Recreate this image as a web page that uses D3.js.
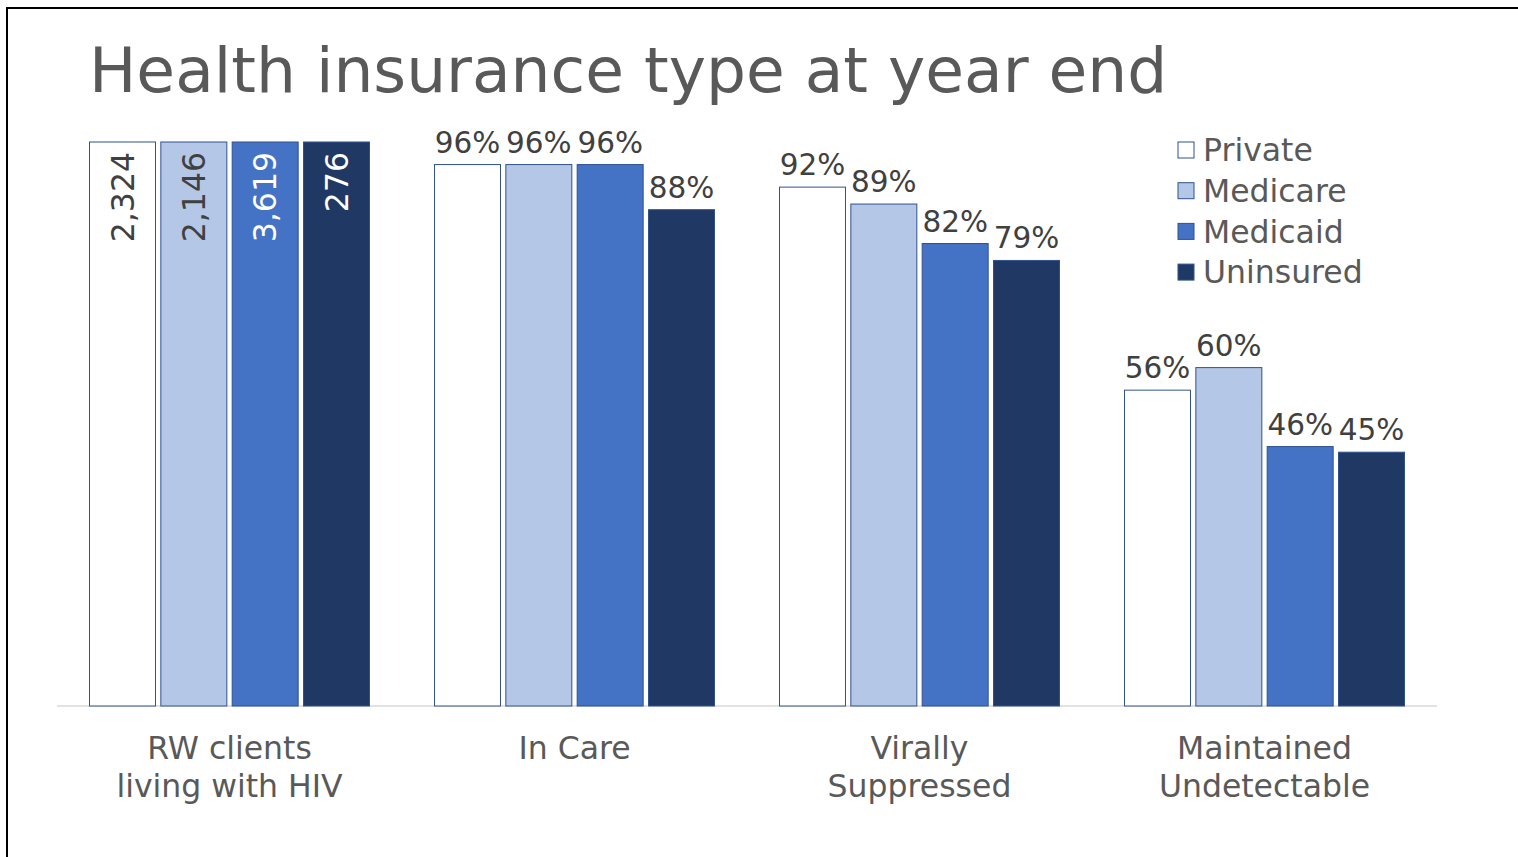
<!DOCTYPE html>
<html>
<head>
<meta charset="utf-8">
<script src="https://cdn.jsdelivr.net/npm/d3@7"></script>
<style>
  html, body { margin: 0; padding: 0; background: #ffffff; }
  svg { display: block; font-family: "DejaVu Sans", Verdana, sans-serif; }
</style>
</head>
<body>
<svg id="chart" width="1518" height="857"></svg>
<script>
// Groups along the x axis (each label may wrap to two lines)
const categories = ["RW clients|living with HIV", "In Care", "Virally|Suppressed", "Maintained|Undetectable"];
const series = ["Private", "Medicare", "Medicaid", "Uninsured"];

// Share of clients (%) per insurance type; the first group is the 100% base
const privateVals   = [100, 96, 92, 56];
const medicareVals  = [100, 96, 89, 60];
const medicaidVals  = [100, 96, 82, 46];
const uninsuredVals = [100, 88, 79, 45];

// Client counts shown on the base bars
const clientCounts = [2324, 2146, 3619, 276];

const colors = ["#FFFFFF", "#B4C7E7", "#4472C4", "#203864"];
const countLabelColors = ["#404040", "#404040", "#FFFFFF", "#FFFFFF"];

const values = [privateVals, medicareVals, medicaidVals, uninsuredVals];

const svg = d3.select("#chart");

// Frame lines
svg.append("rect")
  .attr("x", 7).attr("y", 8)
  .attr("width", 1560).attr("height", 900)
  .attr("fill", "none").attr("stroke", "#000").attr("stroke-width", 2);

// Title
svg.append("text")
  .attr("x", 89).attr("y", 92)
  .attr("font-size", 63)
  .attr("fill", "#595959")
  .text("Health insurance type at year end");

const plot = { left: 57, right: 1437, top: 142, bottom: 706 };

const x0 = d3.scaleBand()
  .domain(categories)
  .range([plot.left, plot.right])
  .padding(0);

const groupPad = 32.5;
const x1 = d3.scaleBand()
  .domain(series)
  .range([groupPad, x0.bandwidth() - groupPad])
  .paddingInner(0.075)
  .paddingOuter(0);

const y = d3.scaleLinear()
  .domain([0, 100])
  .range([plot.bottom, plot.top]);

// Axis baseline
svg.append("line")
  .attr("x1", plot.left).attr("x2", plot.right)
  .attr("y1", plot.bottom).attr("y2", plot.bottom)
  .attr("stroke", "#D9D9D9").attr("stroke-width", 1.5);

const rows = [];
categories.forEach((c, ci) => {
  series.forEach((s, si) => {
    rows.push({ cat: c, ci, s, si, v: values[si][ci] });
  });
});

const groups = svg.append("g");

groups.selectAll("rect.bar")
  .data(rows)
  .join("rect")
  .attr("class", "bar")
  .attr("x", d => x0(d.cat) + x1(d.s))
  .attr("y", d => y(d.v))
  .attr("width", x1.bandwidth())
  .attr("height", d => y(0) - y(d.v))
  .attr("fill", d => colors[d.si])
  .attr("stroke", "#2F528F")
  .attr("stroke-width", 1);

// Percent labels above bars (groups after the first)
groups.selectAll("text.pct")
  .data(rows.filter(d => d.ci > 0))
  .join("text")
  .attr("class", "pct")
  .attr("x", d => x0(d.cat) + x1(d.s) + x1.bandwidth() / 2)
  .attr("y", d => y(d.v) - 12)
  .attr("text-anchor", "middle")
  .attr("font-size", 29.5)
  .attr("fill", "#404040")
  .text(d => d.v + "%");

// Rotated count labels inside the base bars
const fmt = d3.format(",");
groups.selectAll("text.count")
  .data(rows.filter(d => d.ci === 0))
  .join("text")
  .attr("class", "count")
  .attr("transform", d => `translate(${x0(d.cat) + x1(d.s) + x1.bandwidth() / 2},${y(d.v) + 10}) rotate(-90)`)
  .attr("text-anchor", "end")
  .attr("dy", "0.35em")
  .attr("font-size", 31.5)
  .attr("fill", d => countLabelColors[d.si])
  .text(d => fmt(clientCounts[d.si]));

// Category labels
const catLabels = svg.append("g");
categories.forEach(c => {
  const lines = c.split("|");
  const t = catLabels.append("text")
    .attr("x", x0(c) + x0.bandwidth() / 2)
    .attr("y", 759)
    .attr("text-anchor", "middle")
    .attr("font-size", 31.5)
    .attr("fill", "#595959");
  lines.forEach((ln, i) => {
    t.append("tspan")
      .attr("x", x0(c) + x0.bandwidth() / 2)
      .attr("y", 759 + i * 38)
      .text(ln);
  });
});

// Legend
const legend = svg.append("g").attr("transform", "translate(1178,150)");
const item = legend.selectAll("g")
  .data(series)
  .join("g")
  .attr("transform", (d, i) => `translate(0,${i * 40.7})`);
item.append("rect")
  .attr("x", 0).attr("y", -8)
  .attr("width", 16).attr("height", 16)
  .attr("fill", (d, i) => colors[i])
  .attr("stroke", "#2F528F")
  .attr("stroke-width", 1);
item.append("text")
  .attr("x", 25)
  .attr("dy", "0.36em")
  .attr("font-size", 31.5)
  .attr("fill", "#595959")
  .text(d => d);
</script>
</body>
</html>
